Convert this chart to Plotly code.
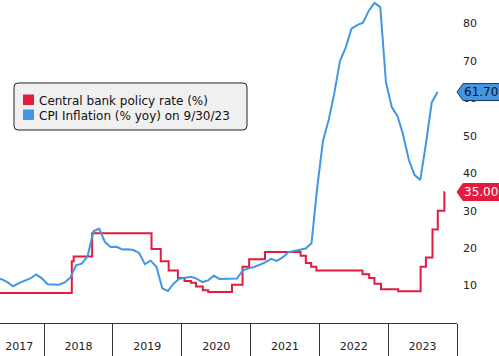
import plotly.graph_objects as go
import pandas as pd

# ---- data ----
cpi_months = pd.date_range("2017-04-01", "2023-09-01", freq="MS")
cpi_values = [
    11.87, 11.72, 10.90, 9.79, 10.68, 11.20, 11.90, 12.98, 11.92,
    10.35, 10.26, 10.23, 10.85, 12.15, 15.39, 15.85, 17.90, 24.52, 25.24, 21.62, 20.30,
    20.35, 19.67, 19.71, 19.50, 18.71, 15.72, 16.65, 15.01, 9.26, 8.55, 10.56, 11.84,
    12.15, 12.37, 11.86, 10.94, 11.39, 12.62, 11.76, 11.77, 11.75, 11.89, 14.03, 14.60,
    14.97, 15.61, 16.19, 17.14, 16.59, 17.53, 18.95, 19.25, 19.58, 19.89, 21.31, 36.08,
    48.69, 54.44, 61.14, 69.97, 73.50, 78.62, 79.60, 80.21, 83.45, 85.51, 84.39, 64.27,
    57.68, 55.18, 50.51, 43.68, 39.59, 38.21, 47.83, 58.94, 61.70,
]
cpi_dates = [d + pd.Timedelta(days=19) for d in cpi_months]

rate_dates = [
    "2017-01-01", "2018-05-28", "2018-06-07", "2018-09-13", "2019-07-25",
    "2019-09-12", "2019-10-24", "2019-12-12", "2020-01-16", "2020-02-19",
    "2020-03-17", "2020-04-22", "2020-05-21", "2020-09-24", "2020-11-19",
    "2020-12-24", "2021-03-18", "2021-09-23", "2021-10-21", "2021-11-18",
    "2021-12-16", "2022-08-18", "2022-09-22", "2022-10-20", "2022-11-24",
    "2023-02-23", "2023-06-22", "2023-07-20", "2023-08-24", "2023-09-21",
    "2023-10-26", "2023-10-27",
]
rate_values = [
    8.00, 16.50, 17.75, 24.00, 19.75,
    16.50, 14.00, 12.00, 11.25, 10.75,
    9.75, 8.75, 8.25, 10.25, 15.00,
    17.00, 19.00, 18.00, 16.00, 15.00,
    14.00, 13.00, 12.00, 10.50, 9.00,
    8.50, 15.00, 17.50, 25.00, 30.00,
    35.00, 35.00,
]

year_labels = ["2017", "2018", "2019", "2020", "2021", "2022", "2023"]
year_label_pos = ["2017-08-22", "2018-07-02", "2019-07-02", "2020-07-02",
                  "2021-07-02", "2022-07-02", "2023-07-02"]
year_bounds = ["2018-01-01", "2019-01-01", "2020-01-01", "2021-01-01",
               "2022-01-01", "2023-01-01", "2024-01-01"]
y_ticks = [10, 20, 30, 40, 50, 60, 70, 80]

legend_names = ["Central bank policy rate (%)", "CPI Inflation (% yoy) on 9/30/23"]
last_cpi_label = "61.70"
last_rate_label = "35.00"

RED = "#e31b3f"
BLUE = "#4197e3"
FONT = "DejaVu Sans"

# plot-area size in pixels (for placing the legend box in paper units)
PW, PH = 457, 323


def px(x):
    return x / PW


def py(y):
    return 1 - y / PH


fig = go.Figure()
fig.add_trace(go.Scatter(x=rate_dates, y=rate_values, mode="lines",
                         name=legend_names[0],
                         line=dict(color=RED, width=2, shape="hv"),
                         showlegend=False, hoverinfo="skip"))
fig.add_trace(go.Scatter(x=cpi_dates, y=cpi_values, mode="lines",
                         name=legend_names[1],
                         line=dict(color=BLUE, width=2),
                         showlegend=False, hoverinfo="skip"))

# ---- legend box (rounded) ----
bx0, bx1, by0, by1, r = 14, 247, 83, 130, 4
path = (f"M {px(bx0 + r)},{py(by0)} L {px(bx1 - r)},{py(by0)} "
        f"Q {px(bx1)},{py(by0)} {px(bx1)},{py(by0 + r)} "
        f"L {px(bx1)},{py(by1 - r)} Q {px(bx1)},{py(by1)} {px(bx1 - r)},{py(by1)} "
        f"L {px(bx0 + r)},{py(by1)} Q {px(bx0)},{py(by1)} {px(bx0)},{py(by1 - r)} "
        f"L {px(bx0)},{py(by0 + r)} Q {px(bx0)},{py(by0)} {px(bx0 + r)},{py(by0)} Z")
fig.add_shape(type="path", xref="paper", yref="paper", path=path,
              fillcolor="#f0f0f0", line=dict(color="#222222", width=1), layer="above")
for i, (name, col) in enumerate(zip(legend_names, [RED, BLUE])):
    top = 94.5 + 15 * i
    fig.add_shape(type="rect", xref="paper", yref="paper",
                  x0=px(23), x1=px(34), y0=py(top + 10.5), y1=py(top),
                  fillcolor=col, line=dict(width=0), layer="above")
    fig.add_annotation(xref="paper", yref="paper", x=px(37), y=py(101 + 15 * i),
                       xanchor="left", yanchor="middle", showarrow=False,
                       text=name, font=dict(family=FONT, size=12, color="#111111"))


# ---- value tags on the right ----
def tag(yval, fill, line_col, text, text_col):
    fig.add_shape(type="path", xref="paper", yref="y",
                  xsizemode="pixel", ysizemode="pixel",
                  xanchor=1, yanchor=yval,
                  path="M 0,0 L 6,8.5 L 60,8.5 L 60,-8.5 L 6,-8.5 Z",
                  fillcolor=fill, line=dict(color=line_col, width=1),
                  layer="above")
    fig.add_annotation(xref="paper", yref="y", x=1, y=yval, xanchor="left",
                       yanchor="middle", xshift=5, text=text, showarrow=False,
                       font=dict(family=FONT, size=12, color=text_col))


tag(cpi_values[-1], BLUE, "#1d3557", last_cpi_label, "#111111")
tag(rate_values[-1], RED, RED, last_rate_label, "#ffffff")

fig.update_layout(
    width=499, height=356, autosize=False,
    margin=dict(l=0, r=499 - PW, t=0, b=356 - PH),
    paper_bgcolor="white", plot_bgcolor="white",
    font=dict(family=FONT, size=11, color="#222222"),
    showlegend=False,
    xaxis=dict(type="date", range=["2017-05-12", "2024-01-01"],
               showgrid=False, zeroline=False,
               showline=True, linecolor="#333333", linewidth=1,
               tickmode="array", tickvals=year_label_pos, ticktext=year_labels,
               ticks="", ticklabelstandoff=13,
               tickfont=dict(family=FONT, size=11, color="#222222"),
               minor=dict(tickmode="array", tickvals=year_bounds, ticks="outside",
                          ticklen=33, tickcolor="#333333", tickwidth=1, showgrid=False)),
    yaxis=dict(side="right", range=[0, 86.3], tickvals=y_ticks,
               showgrid=False, zeroline=False, showline=False,
               ticks="", ticklabelstandoff=5,
               tickfont=dict(family=FONT, size=11, color="#222222")),
)

fig.write_html("out.html", config={"displayModeBar": False},
               post_script="document.body.style.margin='0';")
